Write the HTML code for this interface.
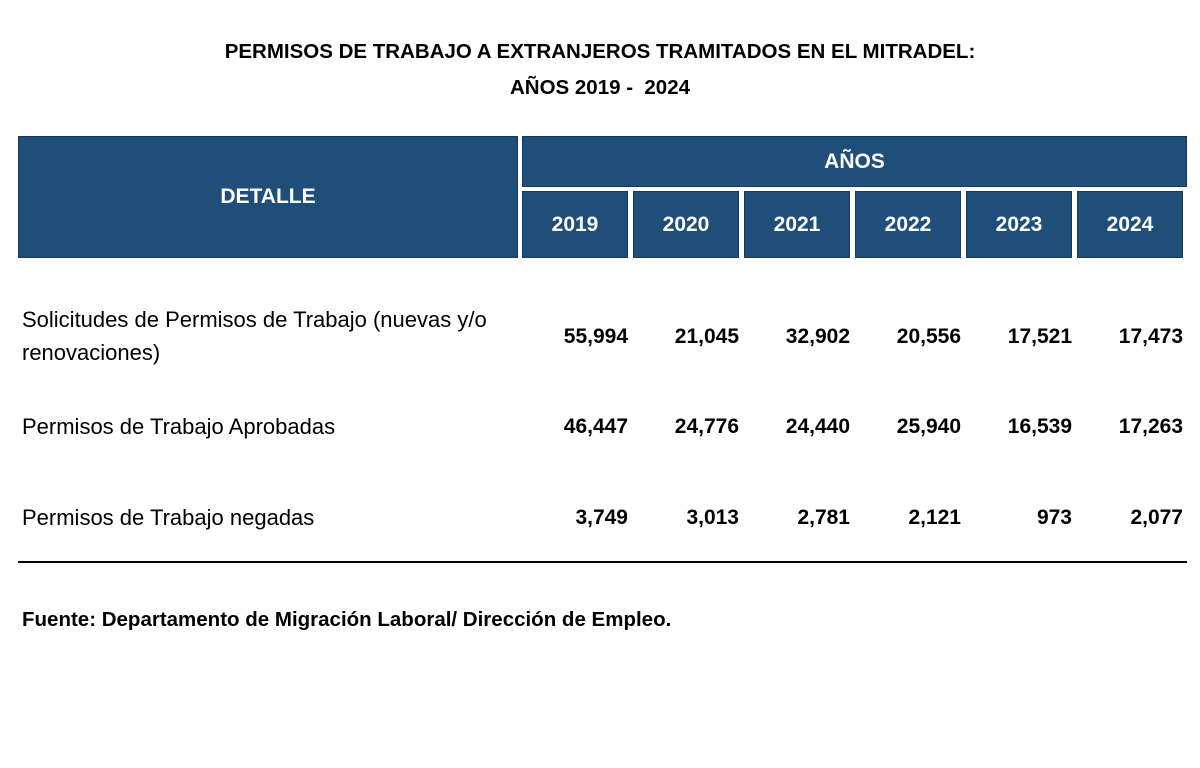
<!DOCTYPE html>
<html><head><meta charset="utf-8"><style>
body{margin:0;width:1200px;height:768px;background:#fff;position:relative;overflow:hidden;font-family:"Liberation Sans Narrow","Liberation Sans",sans-serif;color:#000}
.a{position:absolute;white-space:nowrap}
.box{position:absolute;background:#1f4e78;border:1px solid #16385a;box-sizing:border-box;color:#fff;font-weight:bold;font-size:21px;display:flex;align-items:center;justify-content:center}
.n{position:absolute;width:120px;text-align:right;font-size:21px;font-weight:bold}
.t{font-size:20.5px;font-weight:bold}
.l{font-size:22px}
</style></head><body>
<div class="a t" style="left:0;width:1200px;text-align:center;top:40px">PERMISOS DE TRABAJO A EXTRANJEROS TRAMITADOS EN EL MITRADEL:</div>
<div class="a t" style="left:0;width:1200px;text-align:center;top:76px">AÑOS 2019 -&nbsp; 2024</div>
<div class="box" style="left:18px;top:136px;width:500px;height:122px">DETALLE</div>
<div class="box" style="left:522px;top:136px;width:665px;height:51px">AÑOS</div>
<div class="box" style="left:522px;top:191px;width:106px;height:67px">2019</div>
<div class="box" style="left:633px;top:191px;width:106px;height:67px">2020</div>
<div class="box" style="left:744px;top:191px;width:106px;height:67px">2021</div>
<div class="box" style="left:855px;top:191px;width:106px;height:67px">2022</div>
<div class="box" style="left:966px;top:191px;width:106px;height:67px">2023</div>
<div class="box" style="left:1077px;top:191px;width:106px;height:67px">2024</div>
<div class="a l" style="left:22px;top:307px">Solicitudes de Permisos de Trabajo (nuevas y/o</div>
<div class="a l" style="left:22px;top:340px">renovaciones)</div>
<div class="a l" style="left:22px;top:414px">Permisos de Trabajo Aprobadas</div>
<div class="a l" style="left:22px;top:505px">Permisos de Trabajo negadas</div>
<div class="n" style="left:508px;top:325px">55,994</div><div class="n" style="left:619px;top:325px">21,045</div><div class="n" style="left:730px;top:325px">32,902</div><div class="n" style="left:841px;top:325px">20,556</div><div class="n" style="left:952px;top:325px">17,521</div><div class="n" style="left:1063px;top:325px">17,473</div>
<div class="n" style="left:508px;top:415px">46,447</div><div class="n" style="left:619px;top:415px">24,776</div><div class="n" style="left:730px;top:415px">24,440</div><div class="n" style="left:841px;top:415px">25,940</div><div class="n" style="left:952px;top:415px">16,539</div><div class="n" style="left:1063px;top:415px">17,263</div>
<div class="n" style="left:508px;top:506px">3,749</div><div class="n" style="left:619px;top:506px">3,013</div><div class="n" style="left:730px;top:506px">2,781</div><div class="n" style="left:841px;top:506px">2,121</div><div class="n" style="left:952px;top:506px">973</div><div class="n" style="left:1063px;top:506px">2,077</div>
<div class="a" style="left:18px;top:561px;width:1169px;height:2px;background:#000"></div>
<div class="a t" style="left:22px;top:608px">Fuente: Departamento de Migración Laboral/ Dirección de Empleo.</div>
</body></html>
